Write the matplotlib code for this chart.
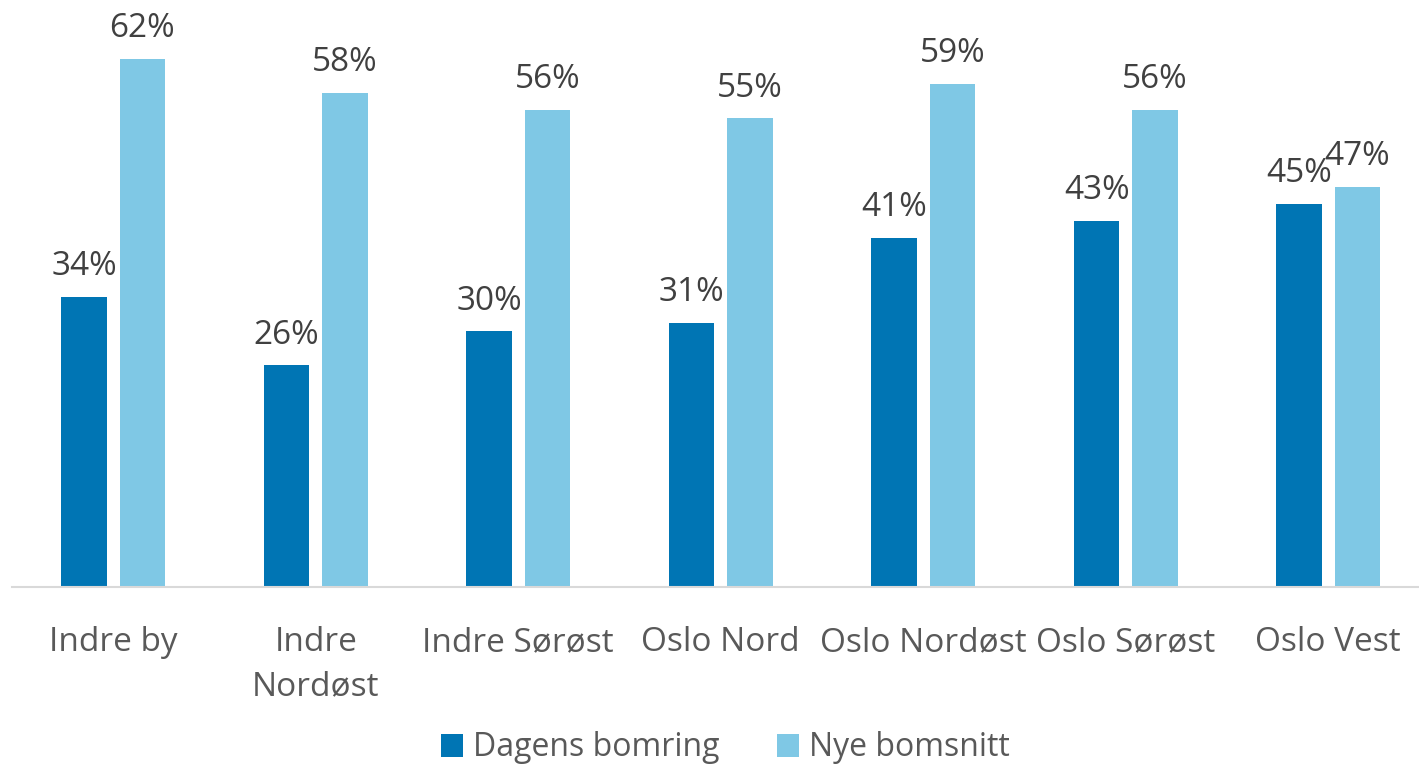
import matplotlib
matplotlib.use('Agg')
import matplotlib.pyplot as plt
import numpy as np

# data
omrader = ['Indre by', 'Indre\nNordøst', 'Indre Sørøst', 'Oslo Nord',
           'Oslo Nordøst', 'Oslo Sørøst', 'Oslo Vest']
dagens = [0.34, 0.26, 0.30, 0.31, 0.41, 0.43, 0.45]
nye = [0.62, 0.58, 0.56, 0.55, 0.59, 0.56, 0.47]

mork = '#0075B4'
lys = '#7FC8E5'

plt.rcParams['font.family'] = ['Open Sans', 'DejaVu Sans']

fig = plt.figure(figsize=(14.19, 7.67), dpi=100)
ax = fig.add_axes([12 / 1419, 180 / 767, 1417.5 / 1419, 587 / 767])

x = np.arange(len(omrader))
b = 0.224
off = 0.144
s1 = ax.bar(x - off, dagens, b, color=mork, label='Dagens bomring')
s2 = ax.bar(x + off, nye, b, color=lys, label='Nye bomsnitt')

for rects, vals in [(s1, dagens), (s2, nye)]:
    for r, v in zip(rects, vals):
        ax.annotate(f'{v:.0%}', (r.get_x() + r.get_width() / 2, v),
                    xytext=(0, 10), textcoords='offset points',
                    ha='center', va='bottom', fontsize=24, color='#404040')

ax.set_xlim(-0.5, len(omrader) - 0.5)
ax.set_ylim(0, 0.689)
ax.set_xticks(x)
ax.set_xticklabels(omrader, fontsize=24, color='#595959', linespacing=1.45)
ax.tick_params(axis='x', length=0, pad=28)
ax.set_yticks([])
for sp in ['top', 'right', 'left']:
    ax.spines[sp].set_visible(False)
ax.spines['bottom'].set_color('#D9D9D9')
ax.spines['bottom'].set_linewidth(1.5)

leg = fig.legend(handles=[s1, s2], loc='center', bbox_to_anchor=(725 / 1419, 1 - 748 / 767),
                 ncol=2, frameon=False, fontsize=23, handlelength=0.7, handleheight=0.7,
                 handletextpad=0.3, columnspacing=1.8)
for t in leg.get_texts():
    t.set_color('#595959')

fig.savefig('out.png', dpi=100)
